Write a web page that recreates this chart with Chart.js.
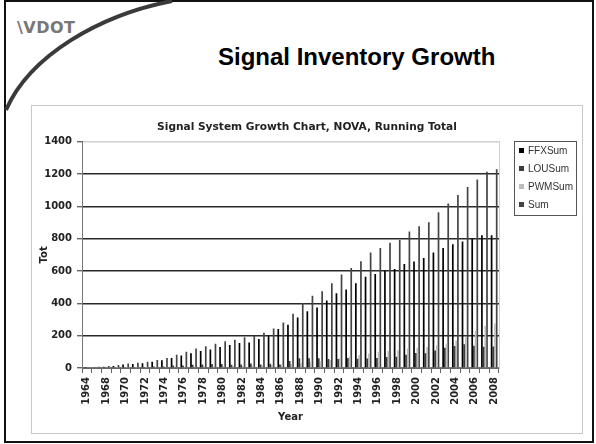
<!DOCTYPE html>
<html><head><meta charset="utf-8">
<script src="https://cdn.jsdelivr.net/npm/chart.js@4"></script>
<style>
html,body{margin:0;padding:0;background:#fff;width:596px;height:444px;overflow:hidden;position:relative;font-family:'Liberation Sans',Arial,sans-serif}
#frame{position:absolute;left:4px;top:0;width:590px;height:443px;border:2px solid #111;box-sizing:border-box}
#curve{position:absolute;left:0;top:0}
#logo{position:absolute;left:17px;top:18px;font:bold 16px 'DejaVu Sans',sans-serif;color:#777;letter-spacing:0.5px}
#slideTitle{position:absolute;left:218px;top:43px;white-space:nowrap;font:bold 24px 'Liberation Sans',Arial,sans-serif;color:#000}
#box{position:absolute;left:31px;top:105px;width:552px;height:329px;border:1px solid #c8c8c8;box-sizing:border-box}
#c{position:absolute;left:31px;top:105px}
</style></head>
<body>
<div id="frame"></div>
<svg id="curve" width="596" height="444"><path d="M172,1 C100,15 30,55 6,110" fill="none" stroke="#3a3a3a" stroke-width="4"/></svg>
<div id="logo">\VDOT</div>
<div id="slideTitle">Signal Inventory Growth</div>
<div id="box"></div>
<canvas id="c" width="552" height="329"></canvas>
<script>
const years = ['1964','1966','1968','1969','1970','1971','1972','1973','1974','1975','1976','1977','1978','1979','1980','1981','1982','1983','1984','1985','1986','1987','1988','1989','1990','1991','1992','1993','1994','1995','1996','1997','1998','1999','2000','2001','2002','2003','2004','2005','2006','2007','2008'];
const ffxSum = [3,5,8,12,22,25,30,38,48,62,78,92,105,115,130,143,155,157,180,200,241,267,312,351,375,418,463,486,524,565,581,602,612,643,659,681,714,743,765,783,800,822,822];
const louSum = [2,3,4,5,5,5,6,9,10,15,16,20,21,25,24,20,22,28,22,27,21,43,60,61,60,56,56,62,57,59,62,68,70,82,93,91,109,125,136,147,137,132,133];
const pwmSum = [0,0,0,1,1,2,2,3,4,5,6,8,9,10,11,12,13,15,16,18,20,25,30,35,40,50,60,70,80,90,100,105,110,120,125,130,140,150,170,190,230,260,275];
const totalSum = [5,8,12,18,28,32,38,50,62,82,100,120,135,150,165,175,190,200,218,245,282,335,402,447,475,524,579,618,661,714,743,775,792,845,877,902,963,1018,1071,1120,1167,1214,1230];
const seriesNames = ['FFXSum','LOUSum','PWMSum','Sum'];
const seriesColors = ['#000000','#3c3c3c','#bdbdbd','#444444'];
const chartTitle = 'Signal System Growth Chart, NOVA, Running Total';

const boxLegend = {
  id: 'boxLegend',
  afterDraw(chart) {
    const ctx = chart.ctx;
    const x0 = 483.5, y0 = 36.5, w = 62, h = 74;
    ctx.save();
    ctx.strokeStyle = '#555'; ctx.lineWidth = 1;
    ctx.strokeRect(x0, y0, w, h);
    ctx.font = "10px 'Liberation Sans', Arial, sans-serif";
    ctx.textBaseline = 'middle';
    chart.data.datasets.forEach((ds, i) => {
      const cy = 46 + i * 18;
      ctx.fillStyle = ds.backgroundColor;
      ctx.fillRect(488, cy - 3, 5, 5);
      ctx.fillStyle = '#333';
      ctx.fillText(ds.label, 497, cy);
    });
    ctx.restore();
  }
};

const tickFont = {family: "'DejaVu Sans', sans-serif", weight: 'bold', size: 10};

new Chart(document.getElementById('c'), {
  type: 'bar',
  data: {
    labels: years,
    datasets: [
      {label: seriesNames[0], data: ffxSum, backgroundColor: seriesColors[0]},
      {label: seriesNames[1], data: louSum, backgroundColor: seriesColors[1]},
      {label: seriesNames[2], data: pwmSum, backgroundColor: seriesColors[2]},
      {label: seriesNames[3], data: totalSum, backgroundColor: seriesColors[3]}
    ]
  },
  options: {
    responsive: false, animation: false, devicePixelRatio: 1,
    layout: {padding: 0},
    datasets: {bar: {categoryPercentage: 0.7, barPercentage: 1.0, borderWidth: 0}},
    plugins: {
      legend: {display: false},
      tooltip: {enabled: false},
      title: {display: true, text: chartTitle, color: '#222',
        font: {family: "'DejaVu Sans', sans-serif", weight: 'bold', size: 10.6},
        padding: {top: 16, bottom: 8}}
    },
    scales: {
      x: {
        offset: true,
        grid: {offset: true, drawOnChartArea: false, drawTicks: true, tickLength: 5, tickColor: '#666'},
        border: {display: true, color: '#666'},
        ticks: {autoSkip: false, minRotation: 90, maxRotation: 90, padding: 4, color: '#222', font: tickFont,
          callback: function(v, i) { return i % 2 === 0 ? this.getLabelForValue(v) : ''; }},
        title: {display: true, text: 'Year', color: '#222', font: {family: "'DejaVu Sans', sans-serif", weight: 'bold', size: 10}, padding: {top: 0, bottom: 11}},
        afterFit: s => { s.height = 66; }
      },
      y: {
        min: 0, max: 1400,
        grid: {tickLength: 5, lineWidth: 1.4, color: c => (c.tick && c.tick.value === 1400) ? '#d0d0d0' : (c.tick && c.tick.value === 0 ? '#777' : '#2a2a2a'), tickColor: '#666'},
        border: {display: true, color: '#777'},
        ticks: {stepSize: 200, padding: 5, color: '#222', font: tickFont, callback: v => String(v)},
        title: {display: true, text: 'Tot', color: '#222', font: {family: "'DejaVu Sans', sans-serif", weight: 'bold', size: 10}, padding: {top: 7, bottom: 0}},
        afterFit: s => { s.width = 51; }
      },
      y2: {
        position: 'right', min: 0, max: 1400,
        grid: {drawOnChartArea: false, drawTicks: false},
        border: {display: true, color: '#d0d0d0'},
        ticks: {display: false},
        afterFit: s => { s.width = 84; }
      }
    }
  },
  plugins: [boxLegend]
});
</script>
</body></html>
